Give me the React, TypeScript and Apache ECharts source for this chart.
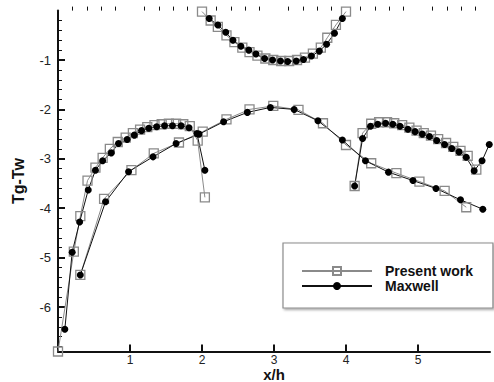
import React, { useEffect, useRef } from "react";
import * as echarts from "echarts";

// Present work (squares) — four zones
const presentA_x = [0, 0.22, 0.31, 0.41, 0.52, 0.62, 0.72, 0.83, 0.94, 1.04, 1.14, 1.24, 1.34, 1.44, 1.54, 1.64, 1.74, 1.83, 1.94, 2.04];
const presentA_y = [-6.9, -4.88, -4.16, -3.44, -3.18, -2.98, -2.8, -2.66, -2.57, -2.48, -2.41, -2.36, -2.32, -2.3, -2.29, -2.29, -2.3, -2.34, -2.63, -3.78];
const presentB_x = [0.31, 0.64, 1.02, 1.33, 1.68, 2.01, 2.34, 2.66, 2.99, 3.34, 3.68, 4.0, 4.35, 4.7, 5.02, 5.37, 5.67];
const presentB_y = [-5.35, -3.81, -3.23, -2.89, -2.67, -2.45, -2.2, -2.0, -1.93, -2.01, -2.28, -2.72, -3.09, -3.29, -3.46, -3.65, -3.98];
const presentC_x = [4.12, 4.23, 4.35, 4.46, 4.57, 4.67, 4.78, 4.88, 4.98, 5.08, 5.18, 5.28, 5.39, 5.49, 5.59, 5.69, 5.81];
const presentC_y = [-3.55, -2.48, -2.29, -2.26, -2.26, -2.28, -2.32, -2.37, -2.43, -2.48, -2.53, -2.6, -2.68, -2.76, -2.84, -2.94, -3.22];
const presentD_x = [2.0, 2.12, 2.22, 2.34, 2.45, 2.56, 2.66, 2.77, 2.88, 2.99, 3.1, 3.21, 3.32, 3.43, 3.54, 3.65, 3.74, 3.86, 4.0];
const presentD_y = [-0.02, -0.2, -0.33, -0.5, -0.64, -0.75, -0.84, -0.91, -0.97, -1.0, -1.02, -1.02, -1.0, -0.95, -0.87, -0.75, -0.55, -0.29, -0.02];

// Maxwell (filled circles) — four zones
const maxA_x = [0.095, 0.197, 0.3, 0.42, 0.52, 0.62, 0.74, 0.84, 0.96, 1.06, 1.16, 1.26, 1.37, 1.48, 1.59, 1.71, 1.82, 1.93, 2.04];
const maxA_y = [-6.45, -4.89, -4.28, -3.63, -3.23, -3.04, -2.88, -2.69, -2.61, -2.52, -2.43, -2.38, -2.35, -2.33, -2.33, -2.33, -2.37, -2.49, -3.23];
const maxB_x = [0.31, 0.66, 0.98, 1.32, 1.64, 1.96, 2.3, 2.63, 2.95, 3.28, 3.61, 3.95, 4.27, 4.59, 4.93, 5.25, 5.59, 5.9];
const maxB_y = [-5.35, -3.87, -3.26, -2.96, -2.69, -2.5, -2.25, -2.06, -1.96, -2.0, -2.23, -2.62, -3.04, -3.27, -3.44, -3.6, -3.83, -4.02];
const maxC_x = [4.12, 4.23, 4.34, 4.44, 4.55, 4.65, 4.75, 4.86, 4.96, 5.06, 5.16, 5.26, 5.37, 5.47, 5.57, 5.67, 5.78, 5.89, 5.99];
const maxC_y = [-3.55, -2.59, -2.34, -2.3, -2.28, -2.3, -2.34, -2.4, -2.45, -2.5, -2.55, -2.63, -2.71, -2.79, -2.86, -2.97, -3.24, -3.04, -2.71];
const maxD_x = [2.1, 2.22, 2.33, 2.43, 2.54, 2.65, 2.75, 2.87, 2.98, 3.09, 3.19, 3.31, 3.41, 3.52, 3.63, 3.73, 3.84, 3.95];
const maxD_y = [-0.16, -0.29, -0.44, -0.6, -0.72, -0.8, -0.88, -0.97, -1.0, -1.02, -1.03, -1.02, -0.99, -0.92, -0.82, -0.68, -0.46, -0.16];

// Axis ticks
const xMajorTicks = [1, 2, 3, 4, 5];
const yMajorTicks = [-6, -5, -4, -3, -2, -1];
const legendNames = ["Present work", "Maxwell"];

const zip = (xs: number[], ys: number[]) => xs.map((x, i) => [x, ys[i]]);

function minorValues(from: number, to: number, step: number) {
  const out: number[] = [];
  for (let v = from; v <= to + 1e-9; v += step) {
    const r = Math.round(v * 10) / 10;
    if (Math.abs(r - Math.round(r)) > 1e-6) out.push(r);
  }
  return out;
}

export default function App() {
  const ref = useRef<HTMLDivElement>(null);
  useEffect(() => {
    if (!ref.current) return;
    const chart = echarts.init(ref.current, undefined, { renderer: "svg" });
    const font = "'Liberation Sans', Arial, sans-serif";
    const axisColor = "#111";

    const presentStyle = (data: number[][]) => ({
      name: legendNames[0],
      type: "line",
      xAxisIndex: 0,
      yAxisIndex: 0,
      data,
      symbol: "rect",
      symbolSize: 9,
      clip: false,
      lineStyle: { color: "#8a8a8a", width: 1 },
      itemStyle: { color: "rgba(255,255,255,0)", borderColor: "#8a8a8a", borderWidth: 1.3 },
      emphasis: { disabled: true },
    });
    const maxStyle = (data: number[][]) => ({
      name: legendNames[1],
      type: "line",
      xAxisIndex: 0,
      yAxisIndex: 0,
      data,
      symbol: "circle",
      symbolSize: 7,
      clip: false,
      lineStyle: { color: "#111", width: 1 },
      itemStyle: { color: "#000", borderWidth: 0 },
      emphasis: { disabled: true },
    });

    chart.setOption({
      animation: false,
      backgroundColor: "#fff",
      textStyle: { fontFamily: font },
      grid: { left: 58, right: 4, top: 10.6, bottom: 30.5, containLabel: false, outerBoundsMode: "none" },
      legend: {
        data: legendNames,
        orient: "vertical",
        left: 283,
        top: 243,
        selectedMode: false,
        backgroundColor: "#fff",
        borderColor: "#8c8c8c",
        borderWidth: 1.2,
        shadowColor: "rgba(0,0,0,0.35)",
        shadowBlur: 2,
        shadowOffsetX: 1.5,
        shadowOffsetY: 1.5,
        padding: [21, 20, 15, 18],
        itemWidth: 70,
        itemHeight: 10,
        itemGap: 1,
        textStyle: {
          fontFamily: font,
          fontWeight: "bold",
          fontSize: 14,
          color: "#111",
          lineHeight: 14,
          padding: [0, 0, 0, 8],
        },
      },
      xAxis: [
        {
          type: "value",
          min: 0,
          max: 6,
          position: "bottom",
          name: "x/h",
          nameLocation: "middle",
          nameGap: 17,
          nameMoveOverlap: false,
          nameTextStyle: { fontFamily: font, fontWeight: "bold", fontSize: 15, lineHeight: 12, color: "#111" },
          axisLine: { show: true, onZero: false, lineStyle: { color: axisColor, width: 2 } },
          axisTick: { show: true, inside: true, length: 7, lineStyle: { color: axisColor, width: 2 }, customValues: xMajorTicks },
          axisLabel: { show: true, customValues: xMajorTicks, margin: 3, fontSize: 12, lineHeight: 11, color: "#222", fontFamily: font },
          splitLine: { show: false },
        },
        {
          type: "value",
          min: 0,
          max: 6,
          position: "bottom",
          axisLine: { show: false },
          axisTick: { show: true, inside: true, length: 4, lineStyle: { color: axisColor, width: 1 }, customValues: minorValues(0.2, 5.8, 0.2) },
          axisLabel: { show: false },
          splitLine: { show: false },
        },
      ],
      yAxis: [
        {
          type: "value",
          min: -6.9,
          max: 0,
          position: "left",
          name: "Tg-Tw",
          nameLocation: "middle",
          nameRotate: 90,
          nameGap: 32,
          nameMoveOverlap: false,
          nameTextStyle: { fontFamily: font, fontWeight: "bold", fontSize: 16, color: "#111" },
          axisLine: { show: true, onZero: false, lineStyle: { color: axisColor, width: 2 } },
          axisTick: { show: true, inside: true, length: 7, lineStyle: { color: axisColor, width: 2 }, customValues: yMajorTicks },
          axisLabel: { show: true, customValues: yMajorTicks, margin: 7, fontSize: 13, color: "#222", fontFamily: font },
          splitLine: { show: false },
        },
        {
          type: "value",
          min: -6.9,
          max: 0,
          position: "left",
          axisLine: { show: false },
          axisTick: { show: true, inside: true, length: 4, lineStyle: { color: axisColor, width: 1 }, customValues: minorValues(-6.8, -0.2, 0.2) },
          axisLabel: { show: false },
          splitLine: { show: false },
        },
      ],
      series: [
        presentStyle(zip(presentA_x, presentA_y)),
        presentStyle(zip(presentB_x, presentB_y)),
        presentStyle(zip(presentC_x, presentC_y)),
        presentStyle(zip(presentD_x, presentD_y)),
        maxStyle(zip(maxA_x, maxA_y)),
        maxStyle(zip(maxB_x, maxB_y)),
        maxStyle(zip(maxC_x, maxC_y)),
        maxStyle(zip(maxD_x, maxD_y)),
      ],
    });
    return () => chart.dispose();
  }, []);
  return (
    <div
      ref={ref}
      style={{ position: "absolute", left: 0, top: 0, width: 494, height: 382 }}
    />
  );
}
